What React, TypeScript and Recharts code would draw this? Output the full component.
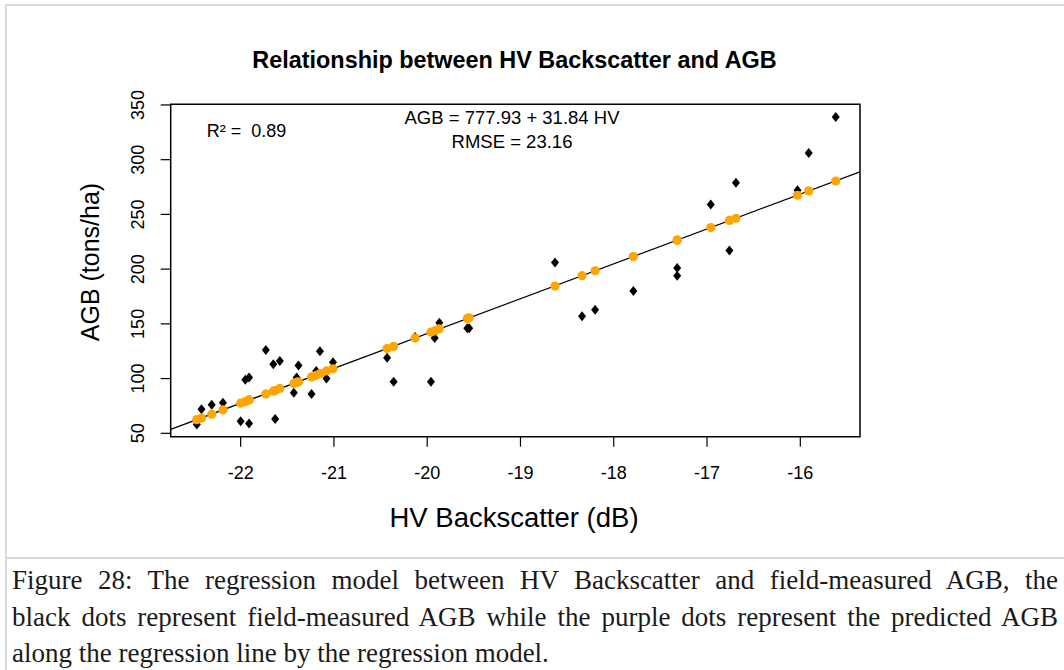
import { ComposedChart, Scatter, XAxis, YAxis, ReferenceArea } from 'recharts';

// HV backscatter (dB) of each field plot
const hvValues = [
  -22.47, -22.42, -22.31, -22.19, -22.0, -21.95, -21.91, -21.91, -21.73, -21.65,
  -21.63, -21.58, -21.43, -21.4, -21.38, -21.24, -21.19, -21.15, -21.08, -21.01,
  -20.43, -20.36, -20.13, -19.96, -19.92, -19.87, -19.57, -19.55, -18.63, -18.34,
  -18.2, -17.79, -17.32, -17.32, -16.96, -16.76, -16.69, -16.03, -15.91, -15.62,
];

// field-measured AGB (black diamonds)
const agbMeasured = [
  58, 72, 76, 78, 61, 99, 101, 59, 126, 113,
  63, 116, 87, 101, 112, 86, 107, 125, 100, 115,
  119, 97, 138, 97, 137, 151, 146, 146, 206, 157,
  163, 180, 201, 194, 259, 217, 279, 272, 306, 339,
];

// predicted AGB (orange dots)
const agbPredicted = [
  62.5, 64, 67.5, 71.5, 77.5, 79, 80.5, 80.5, 86, 88.5,
  89, 91, 95.5, 96.5, 97, 101.5, 103, 104.5, 107, 109,
  127.5, 129.5, 137, 142.5, 143.5, 145.5, 155, 155.5, 184.5, 194,
  198.5, 211.5, 226.5, 226.5, 238, 244.5, 246.5, 267.5, 271.5, 280.5,
];

// regression line end points at the edges of the plot box
const lineHv = [-22.75, -15.36];
const lineAgb = [53.6, 288.9];

const xTicks = [-22, -21, -20, -19, -18, -17, -16];
const yTicks = [50, 100, 150, 200, 250, 300, 350];

const xDomain: [number, number] = [-22.75, -15.36];
const yDomain: [number, number] = [46.9, 350.6];

const measured = hvValues.map((hv, i) => ({ hv, agb: agbMeasured[i] }));
const predicted = hvValues.map((hv, i) => ({ hv, agb: agbPredicted[i] }));
const fitLine = lineHv.map((hv, i) => ({ hv, agb: lineAgb[i] }));

const FONT = '"Liberation Sans", Arial, sans-serif';

const Diamond = (props: any) => {
  const { cx, cy } = props;
  if (cx == null || cy == null) return <g />;
  return (
    <polygon
      points={`${cx},${cy - 5} ${cx + 4},${cy} ${cx},${cy + 5} ${cx - 4},${cy}`}
      fill="#000"
    />
  );
};

const Dot = (props: any) => {
  const { cx, cy } = props;
  if (cx == null || cy == null) return <g />;
  return <circle cx={cx} cy={cy} r={4.6} fill="#FFA500" />;
};

const YTick = (props: any) => {
  const { x, y, payload } = props;
  return (
    <text
      x={x}
      y={y}
      transform={`rotate(-90, ${x}, ${y})`}
      textAnchor="middle"
      fontSize={18}
      fontFamily={FONT}
      fill="#000"
    >
      {payload.value}
    </text>
  );
};

const abs = (left: number, top: number, extra: any = {}) => ({
  position: 'absolute' as const,
  left,
  top,
  fontFamily: FONT,
  color: '#000',
  whiteSpace: 'pre' as const,
  transform: 'translate(-50%, -50%)',
  ...extra,
});

const captionLine = (justify: boolean) => ({
  position: 'absolute' as const,
  left: 12,
  width: 1046,
  fontFamily: '"Liberation Serif", "Times New Roman", serif',
  fontSize: 27,
  color: '#1a1a1a',
  textAlign: 'justify' as const,
  textAlignLast: justify ? ('justify' as const) : ('left' as const),
  lineHeight: '30px',
  whiteSpace: 'nowrap' as const,
});

export default function App() {
  return (
    <div style={{ position: 'absolute', left: 0, top: 0, width: 1064, height: 670, background: '#fff', overflow: 'hidden' }}>
      {/* page frame */}
      <div style={{ position: 'absolute', left: 5, top: 4, width: 1059, height: 2, background: '#dadada' }} />
      <div style={{ position: 'absolute', left: 5, top: 4, width: 2, height: 666, background: '#dadada' }} />
      <div style={{ position: 'absolute', left: 5, top: 557, width: 1059, height: 2, background: '#dadada' }} />

      <div style={{ position: 'absolute', left: 0, top: 0 }}>
        <ComposedChart
          width={1064}
          height={560}
          margin={{ top: 104.3, right: 204, bottom: 93.3, left: 130.7 }}
        >
          <XAxis
            dataKey="hv"
            type="number"
            domain={xDomain}
            ticks={xTicks}
            interval={0}
            allowDataOverflow
            axisLine={false}
            tickLine={{ stroke: '#000', strokeWidth: 1.2 }}
            tickSize={10}
            tickMargin={19.5}
            height={30}
            tick={{ fill: '#000', fontSize: 18, fontFamily: FONT }}
          />
          <YAxis
            dataKey="agb"
            type="number"
            domain={yDomain}
            ticks={yTicks}
            interval={0}
            allowDataOverflow
            axisLine={false}
            tickLine={{ stroke: '#000', strokeWidth: 1.2 }}
            tickSize={10}
            tickMargin={16.2}
            width={40}
            tick={<YTick />}
          />
          <ReferenceArea
            x1={xDomain[0]}
            x2={xDomain[1]}
            y1={yDomain[0]}
            y2={yDomain[1]}
            fill="none"
            stroke="#000"
            strokeWidth={1.5}
            ifOverflow="visible"
          />
          <Scatter
            data={fitLine}
            line={{ stroke: '#000', strokeWidth: 1.2 }}
            shape={() => <g />}
            isAnimationActive={false}
          />
          <Scatter data={measured} shape={<Diamond />} isAnimationActive={false} />
          <Scatter data={predicted} shape={<Dot />} isAnimationActive={false} />
        </ComposedChart>
      </div>

      {/* title and labels */}
      <div style={abs(514.5, 60, { fontSize: 23.4, fontWeight: 'bold' })}>
        Relationship between HV Backscatter and AGB
      </div>
      <div style={abs(514, 518, { fontSize: 27.5 })}>HV Backscatter (dB)</div>
      <div style={abs(90, 262, { fontSize: 25, transform: 'translate(-50%, -50%) rotate(-90deg)' })}>
        AGB (tons/ha)
      </div>

      {/* annotations */}
      <div style={abs(246.5, 131, { fontSize: 18 })}>R² =  0.89</div>
      <div style={abs(512, 118, { fontSize: 18.5 })}>AGB = 777.93 + 31.84 HV</div>
      <div style={abs(512, 142, { fontSize: 18.5 })}>RMSE = 23.16</div>

      {/* caption */}
      <div style={{ ...captionLine(true), top: 565 }}>
        Figure 28: The regression model between HV Backscatter and field-measured AGB, the
      </div>
      <div style={{ ...captionLine(true), top: 602 }}>
        black dots represent field-measured AGB while the purple dots represent the predicted AGB
      </div>
      <div style={{ ...captionLine(false), top: 638 }}>
        along the regression line by the regression model.
      </div>
    </div>
  );
}
